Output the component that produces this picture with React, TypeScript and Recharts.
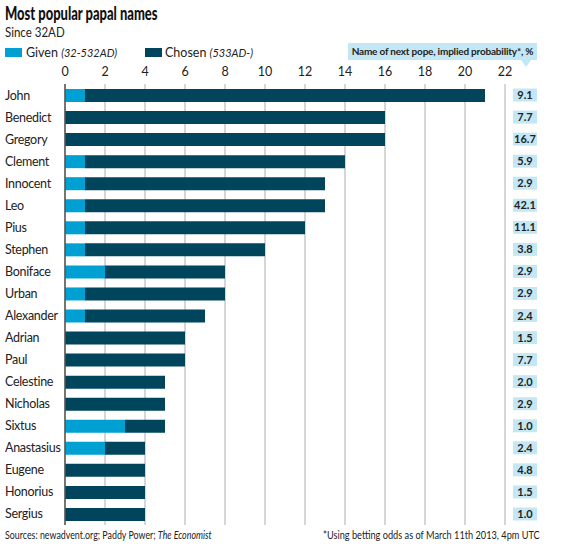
import React from "react";
import { BarChart, Bar, XAxis, YAxis, CartesianGrid, ReferenceLine } from "recharts";

const NAMES = [
  "John", "Benedict", "Gregory", "Clement", "Innocent", "Leo", "Pius", "Stephen",
  "Boniface", "Urban", "Alexander", "Adrian", "Paul", "Celestine", "Nicholas",
  "Sixtus", "Anastasius", "Eugene", "Honorius", "Sergius",
];
const GIVEN = [1, 0, 0, 1, 1, 1, 1, 1, 2, 1, 1, 0, 0, 0, 0, 3, 2, 0, 0, 0];
const CHOSEN = [20, 16, 16, 13, 12, 12, 11, 9, 6, 7, 6, 6, 6, 5, 5, 2, 2, 4, 4, 4];
const PROB = [9.1, 7.7, 16.7, 5.9, 2.9, 42.1, 11.1, 3.8, 2.9, 2.9, 2.4, 1.5, 7.7, 2.0, 2.9, 1.0, 2.4, 4.8, 1.5, 1.0];
const TICKS = [0, 2, 4, 6, 8, 10, 12, 14, 16, 18, 20, 22];

const GIVEN_COLOR = "#00a0d2";
const CHOSEN_COLOR = "#00455c";
const BOX = "#c4e7f6";
const FONT = "Lato, 'Noto Sans', sans-serif";

const data = NAMES.map((name, i) => ({ name, given: GIVEN[i], chosen: CHOSEN[i], prob: PROB[i] }));

function NameTick({ y, payload }: any) {
  const i = NAMES.indexOf(payload.value);
  return (
    <g>
      <text x={5} y={y} dy={4.5} fontSize={12.5} letterSpacing={-0.3} fill="#222" textAnchor="start" fontFamily={FONT}>
        {payload.value}
      </text>
      <rect x={513} y={y - 6.5} width={24} height={13} fill={BOX} />
      <text x={525} y={y} dy={4} fontSize={11} fontWeight="bold" fill="#222" textAnchor="middle" fontFamily={FONT}>
        {PROB[i].toFixed(1)}
      </text>
    </g>
  );
}

// condensed look for the Economist-style captions
const squeeze = (s: number): React.CSSProperties => ({
  display: "inline-block",
  transform: `scaleX(${s})`,
  transformOrigin: "left center",
  whiteSpace: "nowrap",
});

export default function App() {
  return (
    <div style={{ position: "absolute", left: 0, top: 0, width: 583, height: 545, background: "#fff", fontFamily: FONT }}>
      <div style={{ position: "absolute", left: 5, top: 2, fontSize: 18.5, fontWeight: 900, color: "#111" }}>
        <span style={squeeze(0.7)}>Most popular papal names</span>
      </div>
      <div style={{ position: "absolute", left: 5, top: 25, fontSize: 12.5, color: "#222" }}>
        <span style={squeeze(0.92)}>Since 32AD</span>
      </div>

      <div style={{ position: "absolute", left: 5, top: 45, fontSize: 12.5, color: "#222", display: "flex" }}>
        <div style={{ display: "flex", alignItems: "center", width: 140 }}>
          <span style={{ display: "inline-block", width: 17, height: 9, background: GIVEN_COLOR, marginRight: 4 }} />
          Given&nbsp;<i style={{ fontSize: 11 }}>(32-532AD)</i>
        </div>
        <div style={{ display: "flex", alignItems: "center" }}>
          <span style={{ display: "inline-block", width: 17, height: 9, background: CHOSEN_COLOR, marginRight: 3 }} />
          Chosen&nbsp;<i style={{ fontSize: 11 }}>(533AD-)</i>
        </div>
      </div>

      <BarChart
        width={583}
        height={545}
        data={data}
        layout="vertical"
        margin={{ top: 64, right: 78, bottom: 20, left: 0 }}
        barSize={13}
      >
        <CartesianGrid horizontal={false} stroke="#c9c9c9" strokeWidth={1.5} />
        <XAxis
          type="number"
          orientation="top"
          domain={[0, 22]}
          ticks={TICKS}
          axisLine={false}
          tickLine={false}
          height={20}
          tick={{ fontSize: 12.5, fill: "#222", fontFamily: FONT }}
        />
        <YAxis
          type="category"
          dataKey="name"
          width={65}
          axisLine={false}
          tickLine={false}
          interval={0}
          tick={<NameTick />}
        />
        <Bar dataKey="given" stackId="a" fill={GIVEN_COLOR} isAnimationActive={false} />
        <Bar dataKey="chosen" stackId="a" fill={CHOSEN_COLOR} isAnimationActive={false} />
        <ReferenceLine x={0} stroke="#555" strokeWidth={1.5} />
      </BarChart>

      <div
        style={{
          position: "absolute", left: 348, top: 43, width: 189, height: 17, background: BOX,
          fontSize: 10, fontWeight: "bold", color: "#222", textAlign: "center", lineHeight: "17px",
          whiteSpace: "nowrap", letterSpacing: -0.2,
        }}
      >
        Name of next pope, implied probability*, %
      </div>
      <div
        style={{
          position: "absolute", left: 521, top: 60, width: 0, height: 0,
          borderLeft: "5px solid transparent", borderRight: "5px solid transparent", borderTop: "7px solid " + BOX,
        }}
      />

      <div style={{ position: "absolute", left: 5, top: 528, fontSize: 11.5, color: "#222" }}>
        <span style={squeeze(0.77)}>
          Sources: newadvent.org; Paddy Power; <i>The Economist</i>
        </span>
      </div>
      <div style={{ position: "absolute", left: 323, top: 528, fontSize: 11.5, color: "#222" }}>
        <span style={squeeze(0.8)}>*Using betting odds as of March 11th 2013, 4pm UTC</span>
      </div>
    </div>
  );
}
